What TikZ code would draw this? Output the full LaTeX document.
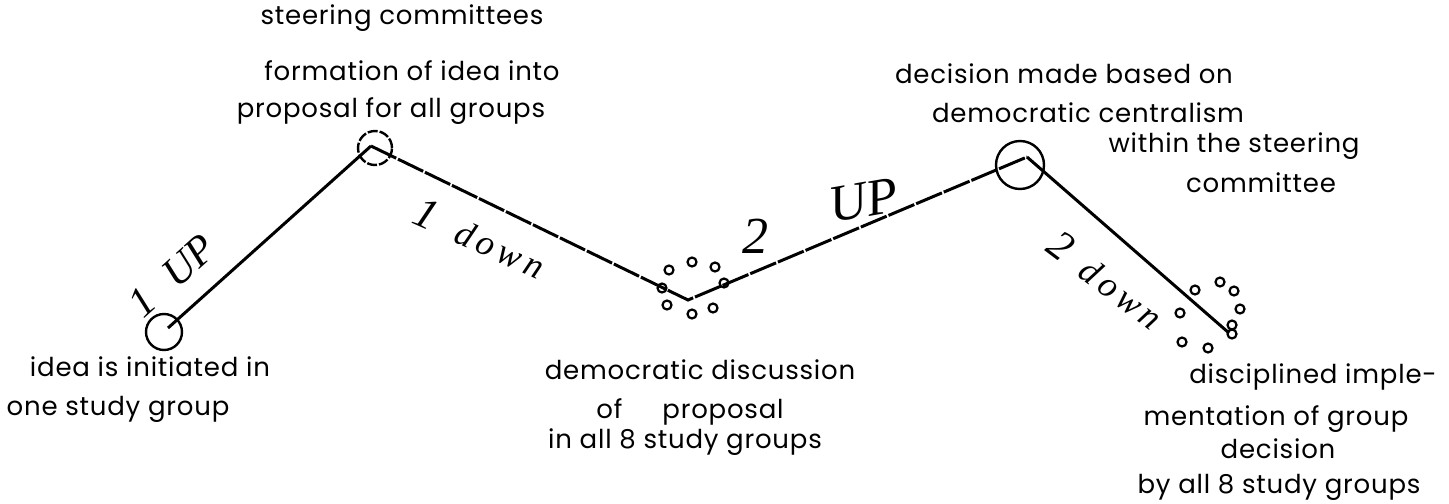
\documentclass[tikz,border=0pt]{standalone}
\usepackage{fontspec}
\setmainfont{Poppins}[LetterSpace=3]
\newfontfamily\handfont{Liberation Serif}
\newfontfamily\handwide{Liberation Serif}[LetterSpace=14]
\begin{document}
\begin{tikzpicture}[x=0.5pt,y=-0.5pt,
  lbl/.style={anchor=base, inner sep=0pt, font=\fontsize{13}{15}\selectfont},
  hand/.style={inner sep=0pt, font=\handfont\itshape\fontsize{18}{20}\selectfont},
  bigc/.style={draw, circle, line width=1.2pt, inner sep=0pt},
  smallc/.style={draw, circle, line width=1.1pt, minimum size=4.5pt, inner sep=0pt},
  solidline/.style={line width=1.5pt},
  brokenline/.style={line width=1.5pt, dash pattern=on 14pt off 1pt}]
\useasboundingbox (0,0) rectangle (1449,503);

% big circles
\node[bigc, minimum size=18pt] (cA) at (164,332) {};
\node[bigc, minimum size=17pt, dash pattern=on 5pt off 1pt] (cB) at (375,148) {};
\node[bigc, minimum size=24pt] (cD) at (1020,165) {};

% vertices of the zigzag
\coordinate (vA) at (168,328);
\coordinate (vB) at (371,146);
\coordinate (vC) at (688,300);
\coordinate (vD) at (1027,157);
\coordinate (vE) at (1229,333);

\draw[solidline] (vA) -- (vB);
\draw[brokenline] (vB) -- (vC) -- (vD);
\draw[solidline] (vD) -- (vE);

% small circles around C
\foreach \p [count=\i] in {(669,270),(692,262),(715,267),(724,283),(662,288),(667,305),(692,314),(713,308)}
  \node[smallc] (sc\i) at \p {};
% small circles around E
\foreach \p [count=\i] in {(1195,290),(1220,282),(1234,291),(1240,309),(1232,325),(1232,334),(1180,313),(1182,342),(1208,348)}
  \node[smallc] (se\i) at \p {};

% handwritten labels
\node[hand, rotate=42, font=\handfont\itshape\fontsize{21}{23}\selectfont] (h1) at (172,276) {1\hspace{12pt}UP};
\node[hand, rotate=-24] (h2) at (480,238) {{\fontsize{22}{24}\selectfont 1}\hspace{12pt}{\handwide\itshape down}};
\node[hand, font=\handfont\itshape\fontsize{26}{28}\selectfont] (h3a) at (755,236) {2};
\node[hand, rotate=10, font=\handfont\itshape\fontsize{26}{28}\selectfont] (h3b) at (864,200) {UP};
\node[hand, rotate=-37] (h4) at (1106,280) {{\fontsize{21}{23}\selectfont 2}\hspace{10pt}{\handwide\itshape down}};

% printed labels
\node[lbl] (t1) at (402,25) {steering committees};
\node[lbl] (t2) at (412,80) {formation of idea into};
\node[lbl] (t3) at (391,117) {proposal for all groups};

\node[lbl] (t4) at (150,376) {idea is initiated in};
\node[lbl] (t5) at (118,415) {one study group};

\node[lbl] (t6) at (700,379) {democratic discussion};
\node[lbl] (t7) at (690,418) {of\hspace{20pt}proposal};
\node[lbl] (t8) at (685,448) {in all 8 study groups};

\node[lbl] (t9) at (1064,83) {decision made based on};
\node[lbl] (t10) at (1088,122) {democratic centralism};
\node[lbl] (t11) at (1234,152) {within the steering};
\node[lbl] (t12) at (1261,192) {committee};

\node[lbl] (t13) at (1313,383) {disciplined imple-};
\node[lbl] (t14) at (1276,425) {mentation of group};
\node[lbl] (t15) at (1278,458) {decision};
\node[lbl] (t16) at (1279,493) {by all 8 study groups};
\end{tikzpicture}
\end{document}
